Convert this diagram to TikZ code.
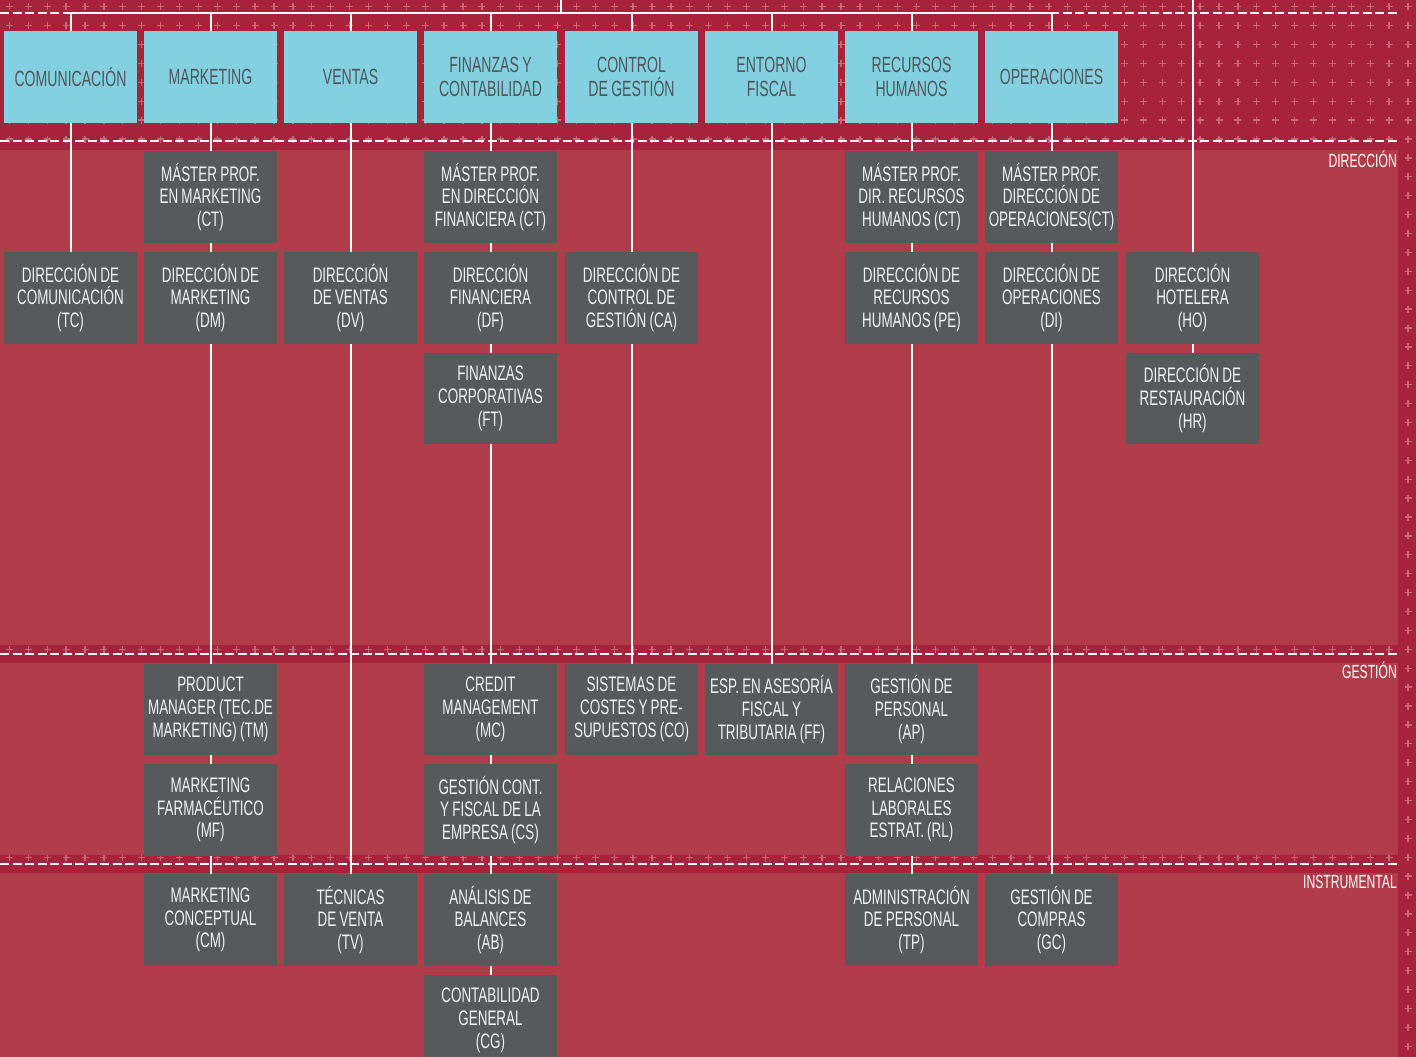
\documentclass[tikz,border=0pt]{standalone}
\usepackage{fontspec}
\setmainfont{Liberation Sans}[FakeStretch=0.64, WordSpace=0.85]
\definecolor{bgdark}{HTML}{A6233B}
\definecolor{panel}{HTML}{B03C4A}
\definecolor{cyanbox}{HTML}{82D0E0}
\definecolor{graybox}{HTML}{58595B}
\definecolor{cyantext}{HTML}{50565A}
\definecolor{plusc}{HTML}{C8667A}
\definecolor{coursetext}{HTML}{F2F2F2}
\pgfdeclarelayer{back}
\pgfdeclarelayer{mid}
\pgfsetlayers{back,mid,main}
\begin{document}
\begin{tikzpicture}[x=1pt,y=-1pt,
  head/.style={fill=cyanbox, text=cyantext, minimum width=133pt, minimum height=92pt, inner sep=0pt, align=center, font=\fontsize{22}{23.5}\selectfont},
  course/.style={fill=graybox, text=coursetext, minimum width=133pt, minimum height=91.5pt, inner sep=0pt, align=center, font=\fontsize{21}{22.8}\selectfont},
  conn/.style={draw=white, line width=2pt, line cap=rect},
  sepline/.style={draw=white, line width=1.4pt, dash pattern=on 9pt off 3.5pt},
  bandlabel/.style={text=white, font=\fontsize{19}{20}\selectfont, inner sep=0pt, anchor=base east}]
\useasboundingbox (0,0) rectangle (1416,1057);
\clip (0,0) rectangle (1416,1057);

\begin{pgfonlayer}{back}
  \fill[bgdark] (0,0) rectangle (1416,1057);
  \draw[plusc, line width=1.3pt]
    \foreach \i in {0,...,74} { \foreach \j in {0,...,55} {
      ({9.4+18.9*\i-3.5},{6.7+18.9*\j}) -- ++(7,0)
      ({9.4+18.9*\i},{6.7+18.9*\j-3.5}) -- ++(0,7) } };
  \fill[panel] (0,150) rectangle (1398,645);
  \fill[panel] (0,663) rectangle (1398,855);
  \fill[panel] (0,873) rectangle (1398,1057);
  \draw[sepline] (0,13) -- (1398,13);
  \draw[sepline] (0,141) -- (1398,141);
  \draw[sepline] (0,654) -- (1398,654);
  \draw[sepline] (0,864) -- (1398,864);
\end{pgfonlayer}

% header areas
\node[head] (com) at (70.5,77) {COMUNICACIÓN};
\node[head] (mkt) at (210.5,77) {MARKETING};
\node[head] (ven) at (350.5,77) {VENTAS};
\node[head] (fin) at (490.5,77) {FINANZAS Y\\CONTABILIDAD};
\node[head] (ctl) at (631.5,77) {CONTROL\\DE GESTIÓN};
\node[head] (ent) at (771.5,77) {ENTORNO\\FISCAL};
\node[head] (rrh) at (911.5,77) {RECURSOS\\HUMANOS};
\node[head] (ope) at (1051.5,77) {OPERACIONES};

% direccion row 1
\node[course] (mct) at (210.5,197) {MÁSTER PROF.\\EN MARKETING\\(CT)};
\node[course] (fct) at (490.5,197) {MÁSTER PROF.\\EN DIRECCIÓN\\FINANCIERA (CT)};
\node[course] (rct) at (911.5,197) {MÁSTER PROF.\\DIR. RECURSOS\\HUMANOS (CT)};
\node[course] (oct) at (1051.5,197) {MÁSTER PROF.\\DIRECCIÓN DE\\OPERACIONES(CT)};
% direccion row 2
\node[course] (tc) at (70.5,298) {DIRECCIÓN DE\\COMUNICACIÓN\\(TC)};
\node[course] (dm) at (210.5,298) {DIRECCIÓN DE\\MARKETING\\(DM)};
\node[course] (dv) at (350.5,298) {DIRECCIÓN\\DE VENTAS\\(DV)};
\node[course] (df) at (490.5,298) {DIRECCIÓN\\FINANCIERA\\(DF)};
\node[course] (ca) at (631.5,298) {DIRECCIÓN DE\\CONTROL DE\\GESTIÓN (CA)};
\node[course] (pe) at (911.5,298) {DIRECCIÓN DE\\RECURSOS\\HUMANOS (PE)};
\node[course] (di) at (1051.5,298) {DIRECCIÓN DE\\OPERACIONES\\(DI)};
\node[course] (ho) at (1192.5,298) {DIRECCIÓN\\HOTELERA\\(HO)};
% direccion row 3
\node[course] (ft) at (490.5,398.5) {FINANZAS\\CORPORATIVAS\\(FT)};
\node[course] (hr) at (1192.5,398.5) {DIRECCIÓN DE\\RESTAURACIÓN\\(HR)};
% gestion
\node[course] (tm) at (210.5,709.5) {PRODUCT\\MANAGER (TEC.DE\\MARKETING) (TM)};
\node[course] (mc) at (490.5,709.5) {CREDIT\\MANAGEMENT\\(MC)};
\node[course] (co) at (631.5,709.5) {SISTEMAS DE\\COSTES Y PRE-\\SUPUESTOS (CO)};
\node[course] (ff) at (771.5,709.5) {ESP. EN ASESORÍA\\FISCAL Y\\TRIBUTARIA (FF)};
\node[course] (ap) at (911.5,709.5) {GESTIÓN DE\\PERSONAL\\(AP)};
\node[course] (mf) at (210.5,810) {MARKETING\\FARMACÉUTICO\\(MF)};
\node[course] (cs) at (490.5,810) {GESTIÓN CONT.\\Y FISCAL DE LA\\EMPRESA (CS)};
\node[course] (rl) at (911.5,810) {RELACIONES\\LABORALES\\ESTRAT. (RL)};
% instrumental
\node[course] (cm) at (210.5,920) {MARKETING\\CONCEPTUAL\\(CM)};
\node[course] (tv) at (350.5,920) {TÉCNICAS\\DE VENTA\\(TV)};
\node[course] (ab) at (490.5,920) {ANÁLISIS DE\\BALANCES\\(AB)};
\node[course] (tp) at (911.5,920) {ADMINISTRACIÓN\\DE PERSONAL\\(TP)};
\node[course] (gc) at (1051.5,920) {GESTIÓN DE\\COMPRAS\\(GC)};
\node[course] (cg) at (490.5,1020.5) {CONTABILIDAD\\GENERAL\\(CG)};

% band labels
\node[bandlabel] (lbdir) at (1397,167) {DIRECCIÓN};
\node[bandlabel] (lbges) at (1397,678) {GESTIÓN};
\node[bandlabel] (lbins) at (1397,888) {INSTRUMENTAL};

% connector anchors
\coordinate (root) at (561,0);
\coordinate (hub) at (561,13);
\coordinate (t1) at (70.5,13);
\coordinate (t2) at (210.5,13);
\coordinate (t3) at (350.5,13);
\coordinate (t4) at (490.5,13);
\coordinate (t5) at (631.5,13);
\coordinate (t6) at (771.5,13);
\coordinate (t7) at (911.5,13);
\coordinate (t8) at (1051.5,13);
\coordinate (t9) at (1192.5,0);

\begin{pgfonlayer}{mid}
  \draw[conn] (root) -- (hub);
  \draw[conn] (t1) -- (t8);
  \draw[conn] (t1) -- (tc.north);
  \draw[conn] (t2) -- (cm.north);
  \draw[conn] (t3) -- (tv.north);
  \draw[conn] (t4) -- (cg.north);
  \draw[conn] (t5) -- (co.north);
  \draw[conn] (t6) -- (ff.north);
  \draw[conn] (t7) -- (tp.north);
  \draw[conn] (t8) -- (gc.north);
  \draw[conn] (t9) -- (hr.north);
\end{pgfonlayer}
\end{tikzpicture}
\end{document}
